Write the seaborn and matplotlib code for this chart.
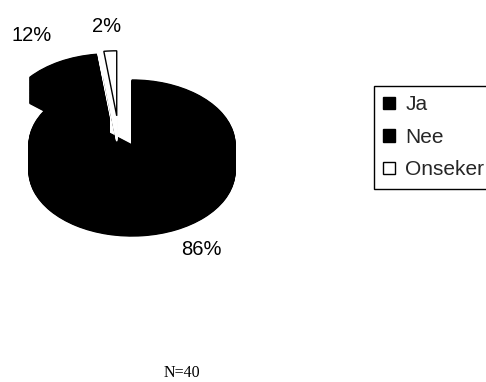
import numpy as np
import matplotlib
matplotlib.use("Agg")
import matplotlib.pyplot as plt
from matplotlib.patches import Patch
import seaborn as sns

# Survey answers (N=40)
categories = ["Ja", "Nee", "Onseker"]
shares = [86, 12, 2]
respondents = 40

sns.set_theme(style="white")
plt.rcParams["font.family"] = ["Liberation Sans", "DejaVu Sans"]

slice_colors = ["black", "black", "white"]
explode = [0.0, 0.46, 0.45]
depth = 0.40          # thickness of the tilted disc, in y units
n_layers = 45
small_shift = (-0.12, 0.0)   # extra sideways pull of the small slice

W, H = 486, 382
fig = plt.figure(figsize=(W / 100, H / 100), dpi=100)
fig.patch.set_facecolor("white")

# pie axes: 1 x-unit = 103 px, 1 y-unit = 65 px -> flattened (tilted) look
ax = fig.add_axes([0, 1 - 270 / H, 264 / W, 270 / H])


def layer(dz, show, edge):
    """Draw one horizontal slab of the disc, keeping only the slices in `show`."""
    dx = small_shift[0] if show == [2] else 0.0
    wedges, _ = ax.pie(
        shares,
        explode=explode,
        colors=slice_colors,
        startangle=90,
        counterclock=False,
        center=(dx, -dz),
        wedgeprops=dict(edgecolor=edge, linewidth=1.0),
    )
    for i, w in enumerate(wedges):
        w.set_visible(i in show)
    return wedges


zs = np.linspace(depth, 0.0, n_layers)

# the two black slices, bottom slab first
for dz in zs:
    layer(dz, [0, 1], "black")

# small white slice on top: outlined bottom, plain white body, outlined top
layer(depth, [2], "black")
for dz in zs[1:-1]:
    layer(dz, [2], "white")
layer(0.0, [2], "black")

ax.set_aspect("auto")
ax.set_xlim(-132 / 103, 132 / 103)
ax.set_ylim(-125 / 65, 145 / 65)
ax.axis("off")

# percentage labels
label_pos = {"Ja": (0.67, -1.615), "Nee": (-0.97, 1.68), "Onseker": (-0.243, 1.83)}
for cat, val in zip(categories, shares):
    x, y = label_pos[cat]
    ax.text(x, y, f"{val}%", ha="center", va="center", fontsize=14.5,
            color="black", clip_on=False)

handles = [Patch(facecolor=c, edgecolor="black", linewidth=1.0) for c in slice_colors]

leg = fig.legend(
    handles, categories,
    loc="upper left",
    bbox_to_anchor=(374 / W, 1 - 86 / H),
    borderaxespad=0,
    frameon=True,
    fancybox=False,
    edgecolor="black",
    framealpha=1,
    fontsize=15,
    handlelength=0.55,
    handleheight=0.55,
    handletextpad=0.5,
    labelspacing=0.65,
    borderpad=0.45,
)
leg.get_frame().set_linewidth(1.0)

fig.text(182 / W, 1 - 373 / H, f"N={respondents}", ha="center", va="center",
         fontsize=11.5, family=["Liberation Serif", "DejaVu Serif"], color="black")

fig.savefig("out.png", dpi=100, facecolor="white")
